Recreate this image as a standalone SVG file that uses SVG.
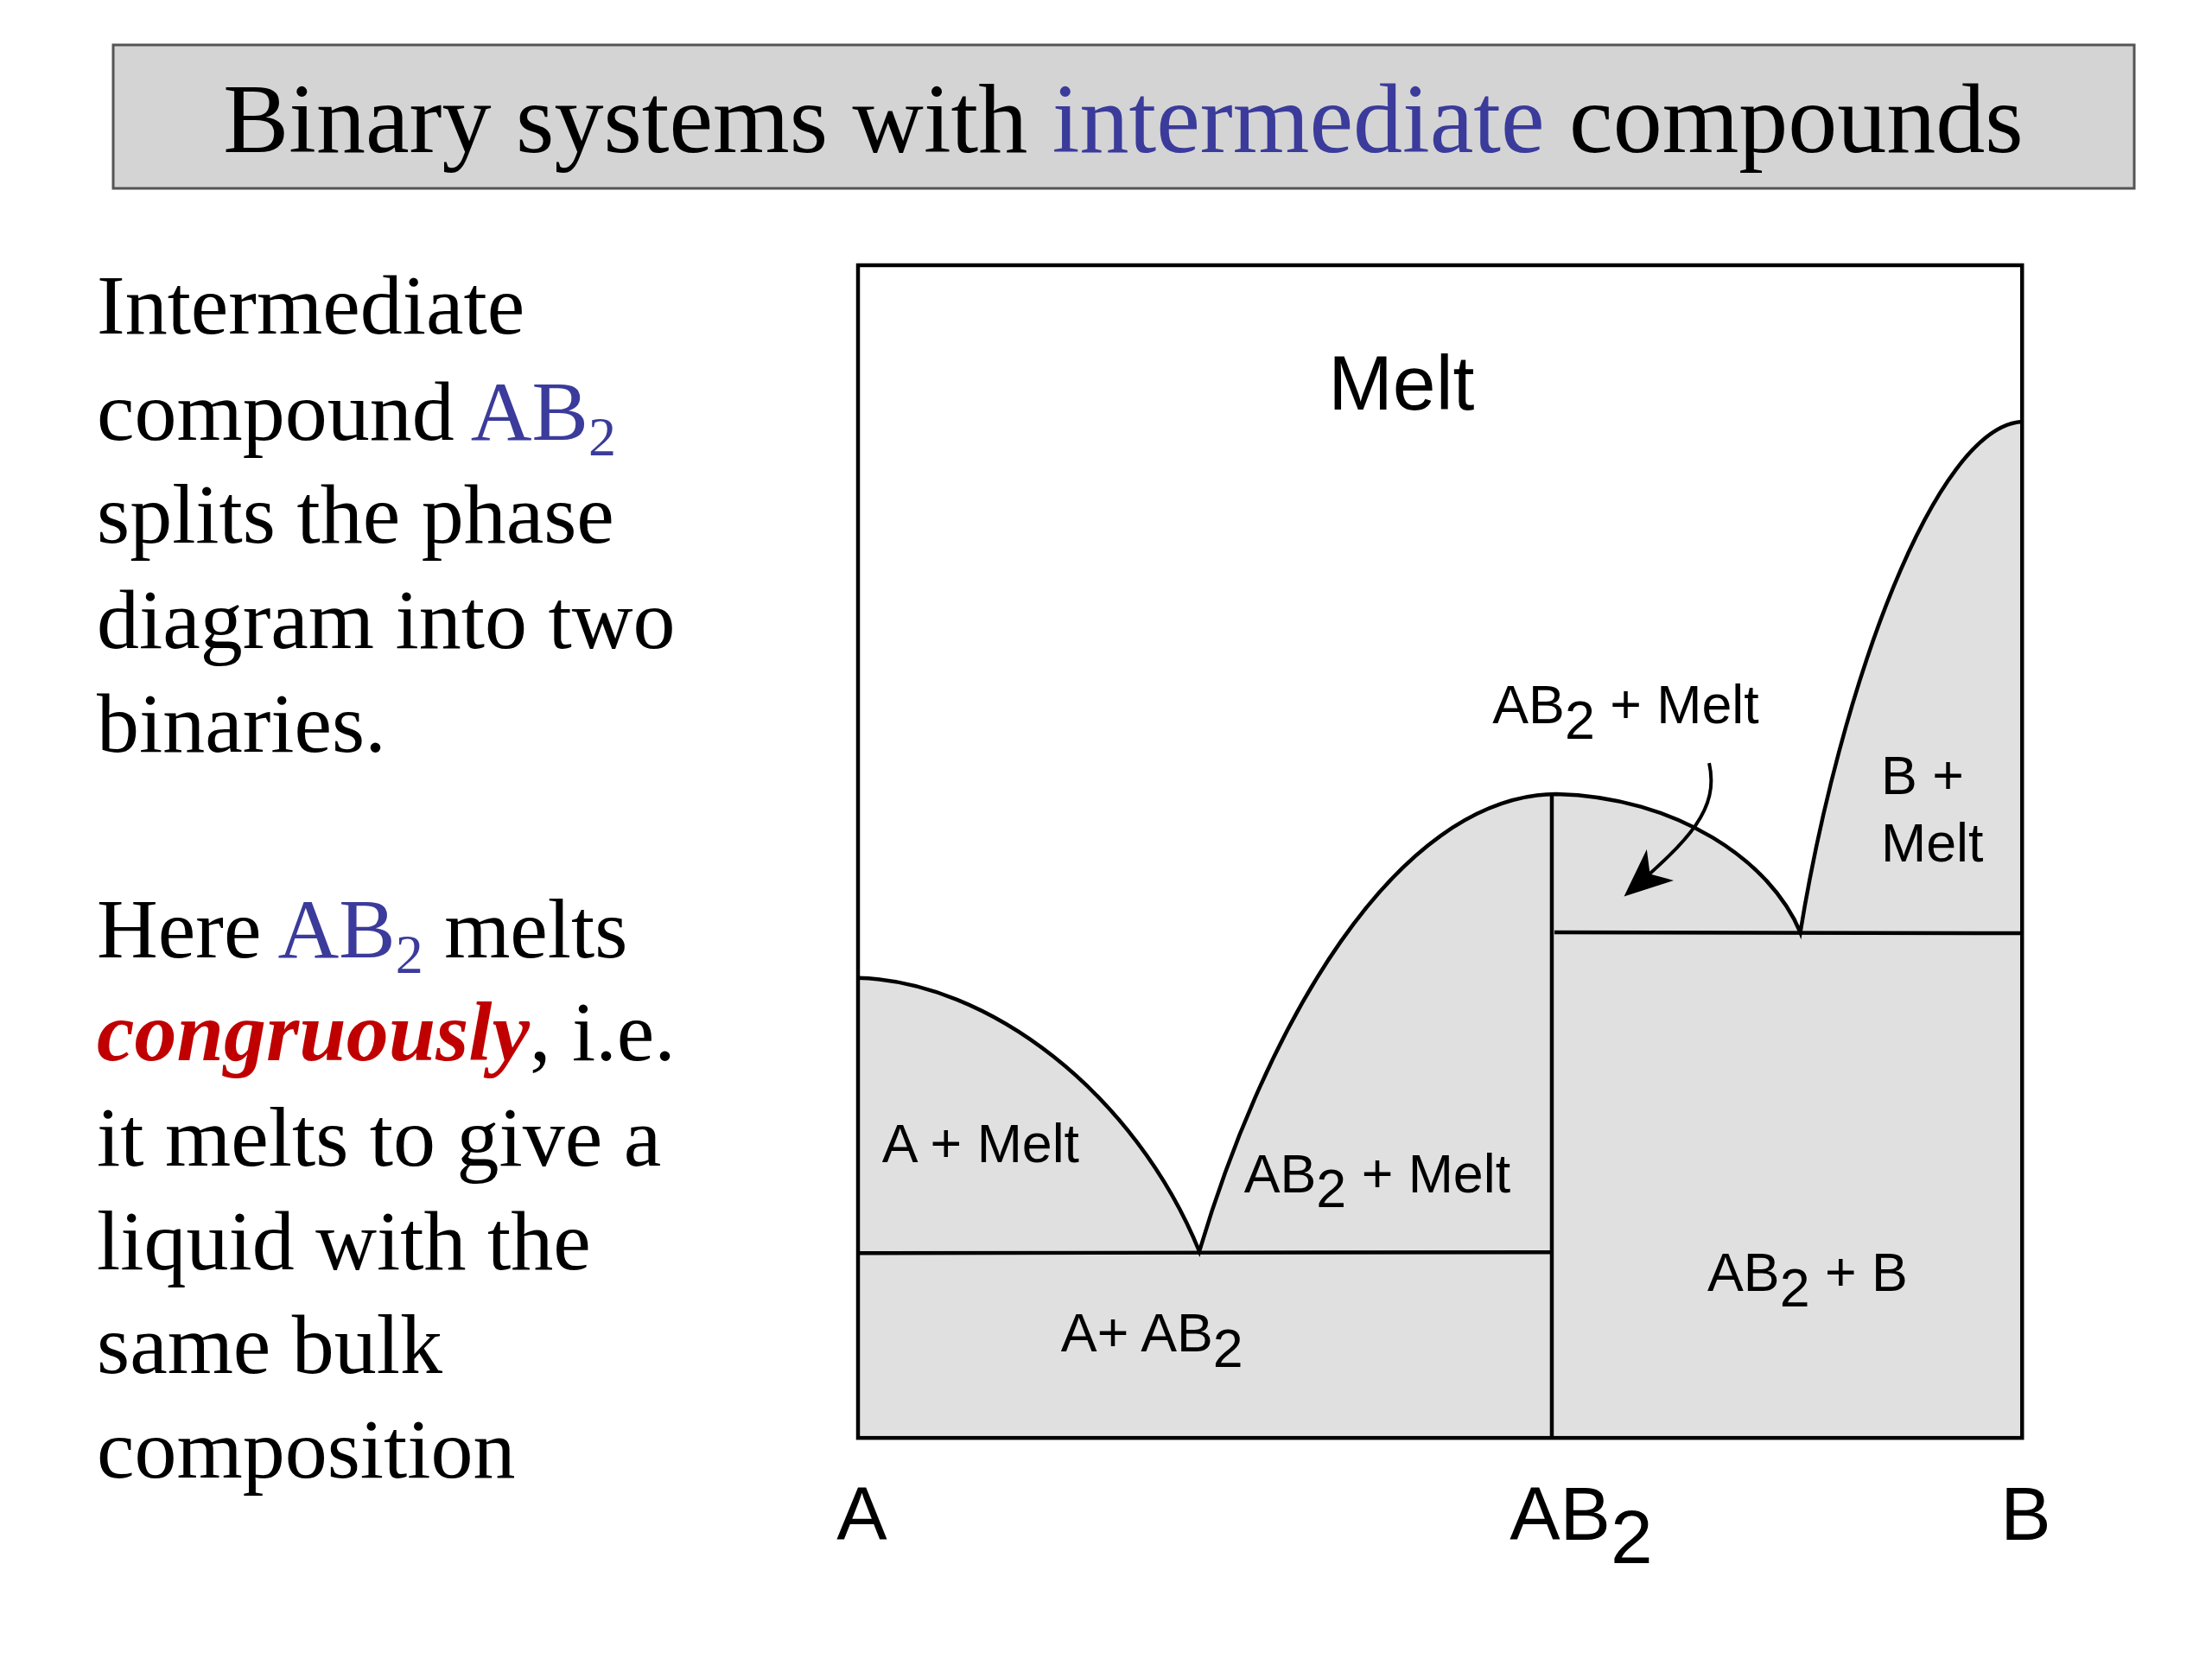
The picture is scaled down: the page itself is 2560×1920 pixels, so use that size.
<svg xmlns="http://www.w3.org/2000/svg" width="2560" height="1920" viewBox="0 0 2560 1920">
<style>
.s{font-family:"Liberation Serif",serif;font-size:98px;fill:#000}
.d{font-family:"Liberation Sans",Arial,sans-serif;fill:#000;font-size:63px}
.ln{fill:none;stroke:#000;stroke-width:4.5}
.b{fill:#3b3b9b}
</style>
<defs><marker id="ah" markerWidth="14" markerHeight="12" refX="12" refY="6" orient="auto" markerUnits="strokeWidth"><path d="M0,0 L14,6 L0,12 L4,6 Z" fill="#000"/></marker></defs>
<rect width="2560" height="1920" fill="#fff"/>
<g id="title"><rect x="131" y="52" width="2339" height="166" fill="#d4d4d4" stroke="#555" stroke-width="3"/>
<text x="1300" y="176" text-anchor="middle" style="font-family:'Liberation Serif',serif;font-size:114px">Binary systems with <tspan class="b">intermediate</tspan> compounds</text></g>
<g id="lefttext" class="s">
<text x="112" y="386">Intermediate</text>
<text x="112" y="509">compound <tspan class="b">AB<tspan font-size="64" dy="18">2</tspan></tspan></text>
<text x="112" y="628">splits the phase</text>
<text x="112" y="750">diagram into two</text>
<text x="112" y="870">binaries.</text>
<text x="112" y="1108">Here <tspan class="b">AB<tspan font-size="64" dy="18">2</tspan></tspan><tspan dy="-18"> melts</tspan></text>
<text x="112" y="1227"><tspan fill="#c00000" font-weight="bold" font-style="italic">congruously</tspan>, i.e.</text>
<text x="112" y="1349">it melts to give a</text>
<text x="112" y="1469">liquid with the</text>
<text x="112" y="1589">same bulk</text>
<text x="112" y="1710">composition</text>
</g>
<g transform="translate(0,1.5) scale(0.995)">
<g id="diagram">
<path d="M998,1136 C1150,1140 1320,1270 1395,1454 C1470,1200 1620,925 1810,922 C1950,925 2060,1000 2094,1083 C2140,800 2250,495 2352,489 L2352,1671 L998,1671 Z" fill="#e0e0e0"/>
<rect x="998" y="307" width="1354" height="1364" class="ln"/>
<path class="ln" d="M998,1136 C1150,1140 1320,1270 1395,1454 C1470,1200 1620,925 1810,922 C1950,925 2060,1000 2094,1083 C2140,800 2250,495 2352,489"/>
<path class="ln" d="M998,1456 L1805,1455 M1805,1671 L1805,922 M1808,1083 L2352,1084"/>
</g>
<g id="connectors"><path d="M1988,886 C2000,940 1965,975 1895,1036" fill="none" stroke="#000" stroke-width="4" marker-end="url(#ah)"/></g>
<g id="labels" class="d">
<text x="1630" y="475" text-anchor="middle" font-size="90">Melt</text>
<text x="1736" y="840">AB<tspan dy="18">2</tspan><tspan dy="-18"> + Melt</tspan></text>
<text x="2188" y="922">B +</text>
<text x="2188" y="1000">Melt</text>
<text x="1026" y="1350">A + Melt</text>
<text x="1447" y="1385">AB<tspan dy="18">2</tspan><tspan dy="-18"> + Melt</tspan></text>
<text x="1234" y="1570">A+ AB<tspan dy="18">2</tspan></text>
<text x="1986" y="1500">AB<tspan dy="18">2</tspan><tspan dy="-18"> + B</tspan></text>
<text x="973" y="1789" font-size="88">A</text>
<text x="1756" y="1789" font-size="88">AB<tspan dy="28">2</tspan></text>
<text x="2327" y="1789" font-size="88">B</text>
</g>
</g>
</svg>
